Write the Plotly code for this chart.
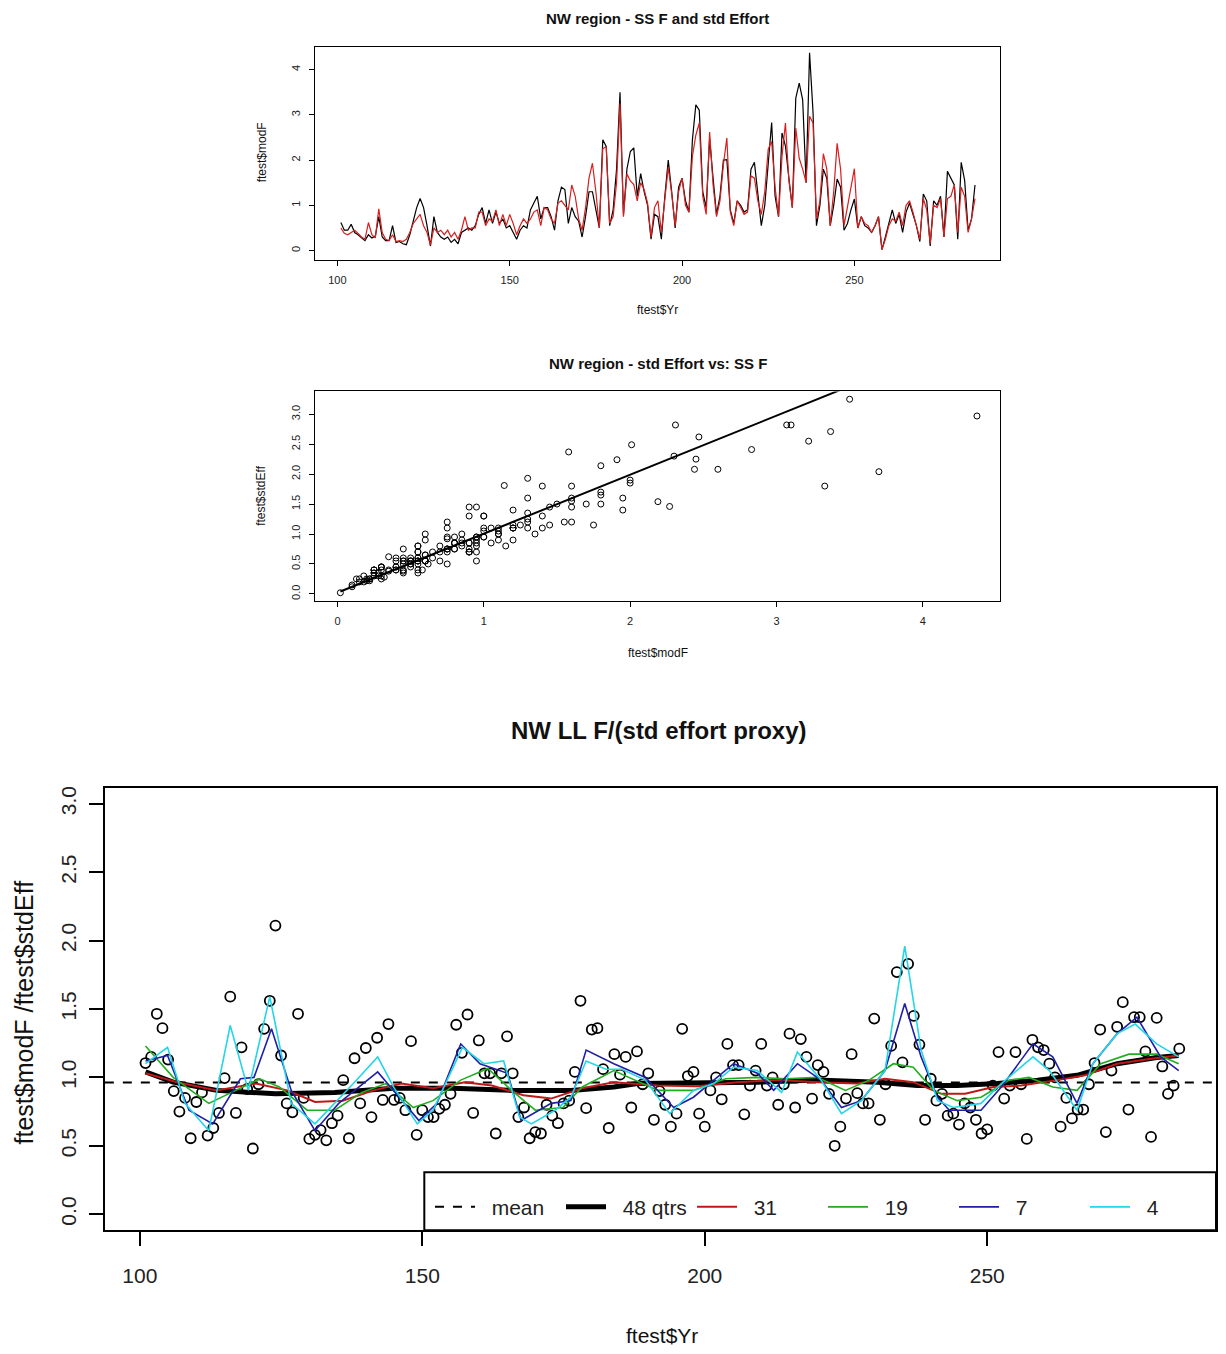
import plotly.graph_objects as go

# ---------------- data ----------------
yr = list(range(101, 286))

mod_f = [0.62, 0.45, 0.45, 0.58, 0.40, 0.35, 0.28, 0.22, 0.35, 0.28,
         0.32, 0.75, 0.30, 0.22, 0.22, 0.55, 0.18, 0.20, 0.15, 0.13,
         0.35, 0.65, 0.95, 1.15, 0.95, 0.55, 0.10, 0.75, 0.40, 0.30,
         0.25, 0.30, 0.18, 0.25, 0.15, 0.40, 0.45, 0.50, 0.45, 0.55,
         0.80, 0.95, 0.60, 0.90, 0.60, 0.85, 0.60, 0.70, 0.50, 0.55,
         0.40, 0.25, 0.45, 0.55, 0.50, 0.90, 1.05, 1.20, 0.70, 0.95,
         0.95, 0.75, 0.45, 1.10, 1.40, 1.35, 0.60, 0.95, 0.75, 0.65,
         0.30, 0.75, 1.30, 1.30, 0.90, 0.50, 2.45, 2.30, 0.55, 0.90,
         1.80, 3.50, 0.80, 1.80, 2.19, 2.27, 1.20, 1.70, 1.30, 1.00,
         0.25, 0.80, 0.75, 0.25, 1.20, 2.00, 1.30, 0.50, 1.40, 1.60,
         1.10, 0.85, 2.44, 3.22, 3.10, 1.30, 0.95, 2.47, 1.60, 0.80,
         1.20, 2.00, 2.01, 0.90, 0.60, 1.10, 1.00, 0.85, 0.90, 1.80,
         1.95, 1.30, 0.55, 1.00, 1.91, 2.83, 1.20, 0.75, 2.60, 2.31,
         1.60, 0.95, 3.37, 3.70, 3.33, 1.50, 4.37, 3.07, 0.55, 1.00,
         1.80, 1.60, 0.55, 1.00, 1.58, 1.40, 0.45, 0.60, 0.90, 1.14,
         0.50, 0.75, 0.55, 0.50, 0.40, 0.55, 0.75, 0.02, 0.30, 0.60,
         0.90, 0.60, 0.80, 0.40, 0.85, 1.05, 0.80, 0.55, 0.20, 1.25,
         1.10, 0.10, 1.10, 1.00, 1.20, 0.30, 1.75, 1.60, 1.45, 0.25,
         1.95, 1.55, 0.45, 0.70, 1.45]

std_eff = [0.50, 0.38, 0.35, 0.40, 0.45, 0.38, 0.30, 0.25, 0.62, 0.35,
           0.28, 0.92, 0.40, 0.25, 0.22, 0.35, 0.20, 0.22, 0.20, 0.25,
           0.40, 0.60, 0.70, 0.80, 0.55, 0.40, 0.12, 0.50, 0.40, 0.45,
           0.35, 0.45, 0.30, 0.40, 0.25, 0.45, 0.75, 0.45, 0.50, 0.50,
           0.85, 0.85, 0.55, 0.70, 0.65, 0.90, 0.55, 0.80, 0.55, 0.80,
           0.60, 0.35, 0.55, 0.70, 0.60, 0.70, 0.85, 0.90, 0.55, 0.95,
           0.90, 0.70, 0.60, 1.05, 1.10, 1.00, 0.90, 1.45, 1.20, 0.70,
           0.45, 0.95, 1.60, 1.93, 1.30, 0.50, 2.25, 2.30, 0.60, 0.75,
           1.50, 3.25, 0.75, 1.70, 1.54, 1.46, 1.10, 1.50, 1.35, 1.05,
           0.30, 0.95, 1.10, 0.40, 1.10, 1.85, 1.25, 0.55, 1.30, 1.60,
           1.00, 0.85, 2.08, 2.55, 2.82, 1.20, 0.80, 2.62, 1.45, 0.75,
           1.10, 1.90, 2.49, 0.85, 0.55, 1.10, 0.95, 0.80, 0.85, 1.65,
           1.60, 1.10, 0.80, 1.30, 2.24, 2.41, 1.40, 0.75, 2.08, 2.82,
           1.55, 0.95, 2.71, 2.04, 1.80, 1.50, 2.97, 2.82, 0.70, 1.10,
           2.14, 1.80, 0.55, 1.30, 2.37, 1.80, 0.55, 1.00, 1.45, 1.81,
           0.50, 0.75, 0.60, 0.55, 0.40, 0.55, 0.75, 0.02, 0.25, 0.55,
           0.70, 0.65, 0.85, 0.55, 1.00, 1.10, 0.85, 0.55, 0.25, 1.15,
           0.90, 0.15, 1.00, 0.95, 1.15, 0.30, 1.15, 1.20, 1.45, 0.40,
           1.40, 1.20, 0.40, 0.70, 1.15]

# straight fit line
fit_intercept = 0.02
fit_slope = 0.985

ratio_yr = list(range(101, 285))
ratio_val = [1.105, 1.15, 1.465, 1.36, 1.13, 0.90, 0.75, 0.85, 0.555, 0.82,
             0.89, 0.575, 0.63, 0.74, 0.995, 1.59, 0.74, 1.22, 0.915, 0.48,
             0.95, 1.355, 1.56, 2.11, 1.16, 0.81, 0.745, 1.465, 0.85, 0.55,
             0.58, 0.615, 0.54, 0.665, 0.72, 0.98, 0.555, 1.14, 0.81, 1.215,
             0.71, 1.29, 0.835, 1.39, 0.835, 0.85, 0.76, 1.265, 0.58, 0.76,
             0.71, 0.71, 0.77, 0.80, 0.88, 1.385, 1.18, 1.46, 0.74, 1.27,
             1.03, 1.03, 0.59, 1.03, 1.30, 1.03, 0.71, 0.78, 0.555, 0.60,
             0.59, 0.80, 0.72, 0.665, 0.81, 0.83, 1.04, 1.56, 0.775, 1.35,
             1.36, 1.06, 0.63, 1.17, 1.02, 1.15, 0.78, 1.19, 0.95, 1.03,
             0.69, 0.90, 0.80, 0.64, 0.735, 1.355, 1.01, 1.04, 0.735, 0.64,
             0.905, 1.00, 0.84, 1.245, 1.09, 1.09, 0.73, 0.94, 1.05, 1.245,
             0.94, 1.00, 0.80, 0.95, 1.32, 0.78, 1.28, 1.15, 0.845, 1.09,
             1.04, 0.88, 0.50, 0.64, 0.845, 1.17, 0.885, 0.81, 0.81, 1.43,
             0.69, 0.95, 1.23, 1.77, 1.11, 1.83, 1.45, 1.24, 0.69, 0.99,
             0.83, 0.88, 0.72, 0.735, 0.655, 0.81, 0.78, 0.69, 0.59, 0.62,
             0.94, 1.185, 0.845, 0.94, 1.185, 0.95, 0.55, 1.275, 1.22, 1.20,
             1.10, 1.00, 0.64, 0.85, 0.70, 0.765, 0.765, 0.95, 1.105, 1.35,
             0.60, 1.05, 1.37, 1.55, 0.765, 1.44, 1.44, 1.19, 0.565, 1.435,
             1.08, 0.88, 0.94, 1.21]

mean_ratio = 0.963

s4_x = [101, 104.9, 108, 112.2, 116, 119.2, 123, 126.8, 131, 133.8, 138, 142.1,
        144.9, 149.1, 151.9, 157.1, 160.9, 164.4, 167.2, 169.3, 173.5, 176.3,
        179.0, 182.5, 185.3, 189.5, 193.8, 198, 201.6, 205.1, 209.3, 213.6,
        216.4, 220.6, 224.2, 227.7, 231.9, 235.4, 238.3, 241.2, 244.0, 248.9,
        252.5, 258.1, 261, 265.9, 268.7, 273, 276.2, 280, 283.9]
s4_y = [1.10, 1.22, 0.81, 0.61, 1.38, 0.905, 1.59, 0.81, 0.66, 0.78, 0.965, 1.15,
        0.93, 0.66, 0.76, 1.22, 1.10, 1.12, 0.71, 0.66, 0.76, 0.855,
        1.12, 1.06, 1.06, 0.98, 0.735, 0.905, 0.955, 1.075, 1.05, 0.89,
        1.185, 0.98, 0.735, 0.83, 1.05, 1.96, 1.20, 0.83, 0.78, 0.81,
        0.955, 1.15, 1.05, 0.76, 1.10, 1.32, 1.39, 1.245, 1.15]

s7_x = [101, 104.9, 108.7, 112.9, 117.8, 120.2, 123.3, 126.8, 131, 135.2, 142.1,
        144.9, 149.4, 152.6, 156.8, 160.2, 165.1, 167.5, 172.8, 176.3, 179.0,
        183.9, 189.5, 194.5, 198, 201.6, 205.1, 209.3, 212.2, 216.4, 220.6,
        224.2, 227.7, 231.9, 235.4, 238.3, 241.2, 243.3, 248.9, 252.5, 258.1,
        261.6, 265.9, 268.7, 273, 276.5, 280.7, 283.9]
s7_y = [1.12, 1.16, 0.76, 0.66, 0.99, 1.00, 1.355, 0.905, 0.61, 0.81, 1.04,
        0.905, 0.685, 0.81, 1.245, 1.10, 1.03, 0.685, 0.81, 0.83, 1.20,
        1.10, 1.00, 0.78, 0.855, 0.98, 1.10, 1.03, 0.905, 1.10, 0.98,
        0.78, 0.83, 1.05, 1.54, 1.15, 0.855, 0.76, 0.76, 0.93, 1.245,
        1.15, 0.81, 1.10, 1.32, 1.44, 1.15, 1.05]

s19_x = [101, 105.9, 112.2, 117.1, 121.2, 124.7, 129.6, 134.5, 139.3, 143.5,
         148.4, 151.9, 156.8, 161.6, 165.8, 170.0, 174.9, 178.3, 183.9, 191.7,
         198, 203.7, 209.3, 214.3, 219.9, 224.9, 229.1, 233.4, 236.9, 240.5,
         244.7, 248.9, 253.9, 257.4, 261.6, 265.9, 270.1, 275.1, 280.0, 283.9]
s19_y = [1.23, 1.00, 0.81, 0.905, 0.99, 0.93, 0.76, 0.76, 0.89, 0.955,
         0.78, 0.83, 0.98, 1.065, 0.905, 0.76, 0.78, 0.93, 1.05, 0.905,
         0.905, 0.99, 1.00, 0.99, 1.00, 0.905, 0.98, 1.10, 1.075, 0.905,
         0.83, 0.855, 0.98, 1.00, 0.93, 0.905, 1.10, 1.17, 1.17, 1.10]

s31_x = [101, 106.6, 113.6, 120.5, 126.1, 131, 135.9, 141.4, 146.3, 151.9,
         157.5, 162.3, 167.9, 172.8, 178.3, 183.9, 191.7, 198.7, 205.8, 212.9,
         219.9, 227, 231.9, 236.9, 241.9, 246.1, 251.1, 256, 262.4, 267.3,
         273, 278.7, 283.9]
s31_y = [1.03, 0.965, 0.905, 0.955, 0.905, 0.82, 0.83, 0.905, 0.955, 0.92,
         0.965, 0.94, 0.87, 0.845, 0.92, 0.965, 0.94, 0.935, 0.965, 0.98,
         0.965, 0.955, 0.99, 0.965, 0.88, 0.88, 0.93, 0.94, 0.98, 1.015,
         1.10, 1.135, 1.16]

s48_x = [101, 105.9, 113.6, 124, 134.5, 144.9, 155.4, 165.8, 176.3, 183.9,
         188.1, 198.7, 209.3, 219.9, 230.6, 237.6, 244.7, 251.8, 258.9, 265.9,
         273, 280.0, 283.9]
s48_y = [1.04, 0.965, 0.905, 0.88, 0.89, 0.92, 0.92, 0.905, 0.905, 0.93,
         0.955, 0.96, 0.965, 0.98, 0.965, 0.94, 0.94, 0.955, 0.98, 1.015,
         1.10, 1.145, 1.16]

legend_names = ["mean", "48 qtrs", "31", "19", "7", "4"]

# ---------------- figure ----------------
PAGE_W, PAGE_H = 1226, 1354
OFF = 8                      # default page margin around the plot div
W, H = PAGE_W - 2 * OFF, PAGE_H - 2 * OFF
FONT = "Liberation Sans, Arial, sans-serif"
RED = "#d81e1e"
RED2 = "#c01818"
GREEN = "#1fae1f"
BLUE = "#1f1fa8"
CYAN = "#22d6e6"
GAP = "\u00a0\u00a0"


def px_x(p):
    return min(1.0, max(0.0, (p - OFF) / W))


def px_y(p):
    return min(1.0, max(0.0, 1 - (p - OFF) / H))


fig = go.Figure()

# top panel
fig.add_trace(go.Scatter(x=yr, y=mod_f, mode="lines", line=dict(color="black", width=1.2),
                         xaxis="x", yaxis="y", showlegend=False))
fig.add_trace(go.Scatter(x=yr, y=std_eff, mode="lines", line=dict(color=RED, width=1.2),
                         xaxis="x", yaxis="y", showlegend=False))

# middle panel
fig.add_trace(go.Scatter(x=mod_f, y=std_eff, mode="markers",
                         marker=dict(symbol="circle-open", size=6, color="black", line=dict(width=1)),
                         xaxis="x2", yaxis="y2", showlegend=False))
fx = [min(mod_f), max(mod_f)]
fig.add_trace(go.Scatter(x=fx, y=[fit_intercept + fit_slope * v for v in fx], mode="lines",
                         line=dict(color="black", width=2), xaxis="x2", yaxis="y2",
                         showlegend=False))

# bottom panel
x3_range = [93.8, 290.5]
fig.add_trace(go.Scatter(x=ratio_yr, y=ratio_val, mode="markers",
                         marker=dict(symbol="circle-open", size=10, color="black", line=dict(width=1.8)),
                         xaxis="x3", yaxis="y3", showlegend=False))
fig.add_trace(go.Scatter(x=x3_range, y=[mean_ratio, mean_ratio], mode="lines",
                         name=GAP + legend_names[0],
                         line=dict(color="black", width=2, dash="dash"), xaxis="x3", yaxis="y3"))
fig.add_trace(go.Scatter(x=s48_x, y=s48_y, mode="lines", name=GAP + legend_names[1],
                         line=dict(color="black", width=5), xaxis="x3", yaxis="y3"))
fig.add_trace(go.Scatter(x=s31_x, y=s31_y, mode="lines", name=GAP + legend_names[2],
                         line=dict(color=RED2, width=2), xaxis="x3", yaxis="y3"))
fig.add_trace(go.Scatter(x=s19_x, y=s19_y, mode="lines", name=GAP + legend_names[3],
                         line=dict(color=GREEN, width=1.6), xaxis="x3", yaxis="y3"))
fig.add_trace(go.Scatter(x=s7_x, y=s7_y, mode="lines", name=GAP + legend_names[4],
                         line=dict(color=BLUE, width=1.6), xaxis="x3", yaxis="y3"))
fig.add_trace(go.Scatter(x=s4_x, y=s4_y, mode="lines", name=GAP + legend_names[5],
                         line=dict(color=CYAN, width=1.6), xaxis="x3", yaxis="y3"))

small_ax = dict(showline=True, mirror=True, linecolor="black", linewidth=1,
                ticks="outside", ticklen=5, tickcolor="black", showgrid=False,
                zeroline=False, tickfont=dict(family=FONT, size=11, color="#222"))
big_ax = dict(showline=True, mirror=True, linecolor="black", linewidth=2,
              ticks="outside", ticklen=14, tickwidth=2, tickcolor="black", showgrid=False,
              zeroline=False, tickfont=dict(family=FONT, size=21, color="#222"))

top_dx = [px_x(316), px_x(1002)]

fig.update_layout(
    width=W, height=H,
    margin=dict(l=0, r=0, t=0, b=0),
    paper_bgcolor="white", plot_bgcolor="white",
    xaxis=dict(domain=top_dx, range=[93.64, 292.36], anchor="y",
               tickvals=[100, 150, 200, 250], ticklabelstandoff=5, **small_ax),
    yaxis=dict(domain=[px_y(258), px_y(45)], range=[-0.2, 4.5], anchor="x",
               tickvals=[0, 1, 2, 3, 4], tickangle=-90, ticklabelstandoff=5, **small_ax),
    xaxis2=dict(domain=top_dx, range=[-0.15, 4.53], anchor="y2",
                tickvals=[0, 1, 2, 3, 4], ticklabelstandoff=5, **small_ax),
    yaxis2=dict(domain=[px_y(600), px_y(390)], range=[-0.12, 3.38], anchor="x2",
                tickvals=[0, 0.5, 1, 1.5, 2, 2.5, 3], tickformat=".1f", tickangle=-90,
                ticklabelstandoff=5, **small_ax),
    xaxis3=dict(domain=[px_x(105), px_x(1222)], range=x3_range, anchor="y3",
                tickvals=[100, 150, 200, 250], ticklabelstandoff=12, **big_ax),
    yaxis3=dict(domain=[px_y(1230), px_y(787)], range=[-0.117, 3.117], anchor="x3",
                tickvals=[0, 0.5, 1, 1.5, 2, 2.5, 3], tickformat=".1f", tickangle=-90,
                ticklabelstandoff=4, **big_ax),
    legend=dict(orientation="h", x=1.0, xanchor="right", y=px_y(1207), yanchor="middle",
                bgcolor="rgba(0,0,0,0)", borderwidth=0,
                font=dict(family=FONT, size=21, color="#222"),
                entrywidth=76, itemwidth=40, traceorder="normal"),
    showlegend=True,
    shapes=[dict(type="rect", xref="paper", yref="paper",
                 x0=px_x(425), x1=px_x(1222), y0=px_y(1230), y1=px_y(1172),
                 fillcolor="white", line=dict(color="black", width=2), layer="above")],
)

ann = []


def text(s, x, y, size, bold=False, angle=0):
    ann.append(dict(text=("<b>%s</b>" % s) if bold else s, x=x, y=y, xref="paper", yref="paper",
                    xanchor="center", yanchor="middle", showarrow=False, textangle=angle,
                    font=dict(family=FONT, size=size, color="#111")))


text("NW region - SS F and std Effort", px_x(659), px_y(17), 15, bold=True)
text("ftest$Yr", px_x(659), px_y(308), 12)
text("ftest$modF", px_x(262), px_y(151), 12, angle=-90)
text("NW region - std Effort vs: SS F", px_x(659), px_y(362), 15, bold=True)
text("ftest$modF", px_x(659), px_y(652), 12)
text("ftest$stdEff", px_x(262), px_y(495), 12, angle=-90)
text("NW LL F/(std effort proxy)", px_x(660), px_y(730), 24, bold=True)
text("ftest$Yr", px_x(663), px_y(1335), 21)
text("ftest$modF /ftest$stdEff", px_x(25), px_y(1012), 25, angle=-90)

fig.update_layout(annotations=ann)

fig.write_html("out.html")
